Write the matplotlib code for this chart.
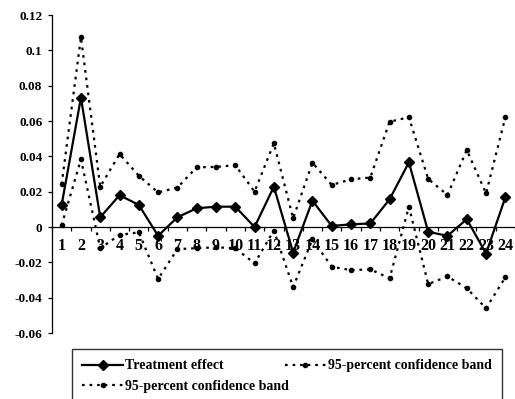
import matplotlib
matplotlib.use("Agg")
import matplotlib.pyplot as plt

periods = list(range(1, 25))
treatment = [0.0125, 0.0732, 0.0055, 0.018, 0.0125, -0.005, 0.0055, 0.0106, 0.0115, 0.0115,
             0.0, 0.0228, -0.0145, 0.0149, 0.0006, 0.0015, 0.002, 0.0157, 0.0366, -0.0027,
             -0.005, 0.0044, -0.015, 0.0168]
upper = [0.0242, 0.1074, 0.0228, 0.0413, 0.029, 0.0196, 0.0223, 0.0338, 0.034, 0.035,
         0.020, 0.0474, 0.0049, 0.0364, 0.0238, 0.027, 0.028, 0.0596, 0.0621, 0.0272,
         0.0181, 0.0436, 0.019, 0.0621]
lower = [0.001, 0.0383, -0.012, -0.0045, -0.003, -0.0294, -0.0125, -0.012, -0.0115, -0.012,
         -0.0206, -0.002, -0.034, -0.007, -0.0225, -0.0244, -0.024, -0.029, 0.0115, -0.0323,
         -0.028, -0.0347, -0.046, -0.0285]
yticks = [-0.06, -0.04, -0.02, 0, 0.02, 0.04, 0.06, 0.08, 0.1, 0.12]
ytick_labels = ["-0.06", "-0.04", "-0.02", "0", "0.02", "0.04", "0.06", "0.08", "0.1", "0.12"]
label_treat = "Treatment effect"
label_band = "95-percent confidence band"

plt.rcParams['font.family'] = ['Liberation Serif', 'DejaVu Serif']
plt.rcParams['font.weight'] = 'bold'

fig = plt.figure(figsize=(5.15, 3.99), dpi=100)
ax = fig.add_axes([52/515, 1-333/399, 1-52/515, (333-15)/399])

dot = (0, (1.2, 2.2))
l_lo, = ax.plot(periods, lower, color='black', lw=1.6, linestyle=dot,
                marker='o', markersize=3, label=label_band)
l_up, = ax.plot(periods, upper, color='black', lw=1.6, linestyle=dot,
                marker='o', markersize=3, label=label_band)
l_tr, = ax.plot(periods, treatment, color='black', lw=1.6, linestyle='-',
                marker='D', markersize=5, label=label_treat)

ax.set_xlim(0.5, 24.5)
ax.set_ylim(-0.06, 0.12)
ax.set_yticks(yticks)
ax.set_yticklabels(ytick_labels)
ax.spines['top'].set_visible(False)
ax.spines['right'].set_visible(False)
ax.spines['bottom'].set_position(('data', 0))
ax.spines['left'].set_linewidth(0.9)
ax.spines['bottom'].set_linewidth(0.9)

ax.set_xticks([i + 0.5 for i in range(0, 25)])
ax.set_xticklabels([])
ax.set_xticks(periods, minor=True)
ax.set_xticklabels([str(p) for p in periods], minor=True)
ax.tick_params(axis='x', which='major', direction='out', length=3, width=0.9)
ax.tick_params(axis='x', which='minor', length=0, pad=8, labelsize=11.5)
ax.tick_params(axis='y', direction='out', length=3, width=0.9, labelsize=9.5, pad=4)
for t in ax.get_xticklabels(minor=True) + ax.get_yticklabels():
    t.set_fontweight('bold')

leg = fig.legend([l_tr, l_lo, l_up], [label_treat, label_band, label_band],
                 ncol=2, loc='upper left', bbox_to_anchor=(72/515, 1-353/399, (502-72)/515, 0.01),
                 mode='expand', frameon=True, fancybox=False, edgecolor='black',
                 prop={'size': 10, 'weight': 'bold'}, handlelength=2.9, handletextpad=0.15,
                 borderpad=0.75, labelspacing=0.55, borderaxespad=0)
leg.get_frame().set_linewidth(1.0)

fig.savefig("out.png", dpi=100)
